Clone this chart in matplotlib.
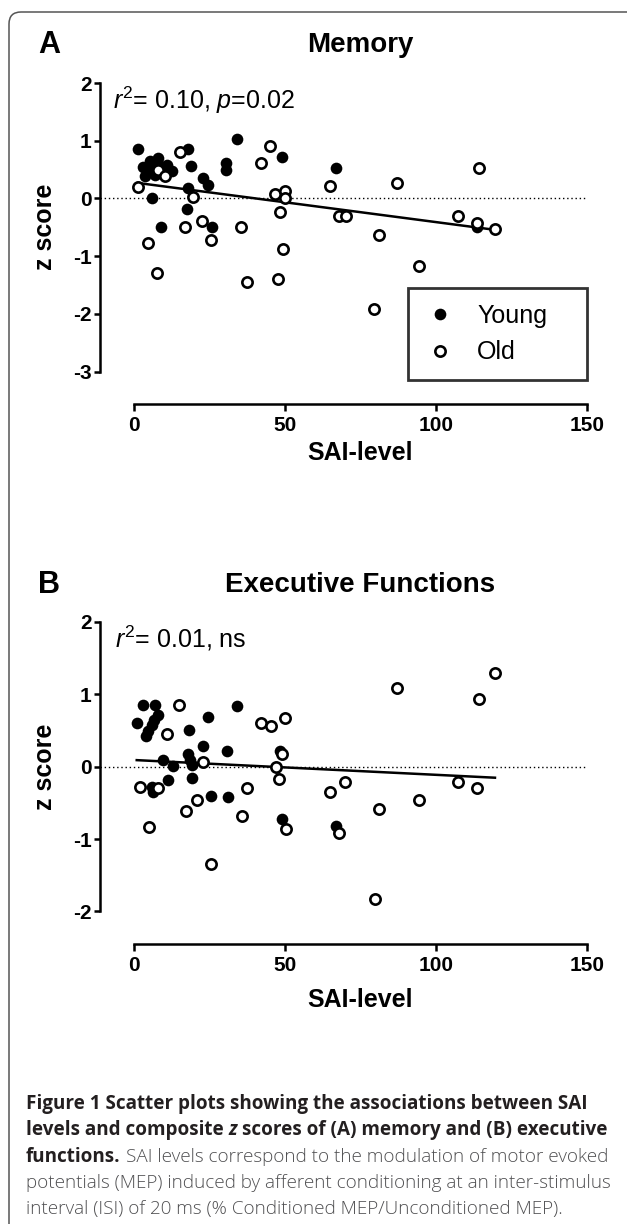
import numpy as np
import matplotlib.pyplot as plt
from matplotlib.lines import Line2D
from matplotlib.patches import FancyBboxPatch
from matplotlib.transforms import IdentityTransform

W, H = 627, 1224

# Panel A: memory z scores vs SAI level
mem_young_sai = [1.2, 3.1, 3.6, 4.5, 5.3, 6.0, 7.0, 8.0, 9.5, 10.8, 12.5, 18.0, 19.0,
                 23.0, 24.4, 30.5, 30.5, 34.0, 49.0, 6.0, 18.0, 17.4, 9.0, 25.7, 66.9, 113.5]
mem_young_z = [0.86, 0.55, 0.38, 0.45, 0.65, 0.60, 0.41, 0.70, 0.55, 0.58, 0.47, 0.86, 0.57,
               0.36, 0.23, 0.62, 0.50, 1.03, 0.72, 0.00, 0.18, -0.18, -0.49, -0.50, 0.52, -0.49]
mem_old_sai = [1.4, 8.0, 10.3, 15.2, 19.6, 16.9, 22.4, 25.4, 4.7, 7.5, 35.4, 37.3, 47.8, 49.2,
               48.3, 46.7, 50.0, 50.0, 45.0, 42.0, 64.9, 87.2, 114.3, 67.7, 70.1, 81.2, 94.5,
               107.4, 113.7, 119.5, 79.6]
mem_old_z = [0.20, 0.50, 0.38, 0.81, 0.03, -0.49, -0.39, -0.72, -0.78, -1.30, -0.49, -1.45, -1.40,
             -0.88, -0.24, 0.08, 0.12, 0.00, 0.90, 0.61, 0.22, 0.27, 0.52, -0.30, -0.30, -0.63,
             -1.17, -0.30, -0.42, -0.53, -1.92]

# Panel B: executive function z scores vs SAI level
exe_young_sai = [0.9, 3.1, 3.9, 4.7, 5.9, 6.5, 7.0, 8.0, 18.3, 24.6, 34.0, 9.5, 12.8, 17.9, 18.5,
                 19.1, 23.0, 30.7, 19.1, 11.4, 5.9, 6.3, 25.4, 31.0, 48.3, 48.9, 66.9]
exe_young_z = [0.61, 0.85, 0.42, 0.49, 0.58, 0.65, 0.85, 0.72, 0.51, 0.69, 0.84, 0.09, 0.01, 0.18,
               0.09, 0.02, 0.28, 0.22, -0.16, -0.18, -0.28, -0.35, -0.41, -0.42, 0.21, -0.72, -0.82]
exe_old_sai = [2.0, 8.0, 5.0, 10.8, 15.0, 22.7, 20.7, 17.1, 37.3, 35.7, 25.4, 42.0, 45.3, 50.0,
               48.9, 47.0, 48.1, 50.3, 64.9, 67.7, 69.9, 79.8, 81.2, 87.2, 94.5, 107.4, 113.5,
               114.3, 119.5]
exe_old_z = [-0.28, -0.30, -0.84, 0.45, 0.85, 0.07, -0.46, -0.61, -0.30, -0.68, -1.34, 0.60, 0.56,
             0.67, 0.18, 0.00, -0.17, -0.86, -0.35, -0.92, -0.21, -1.83, -0.59, 1.09, -0.46, -0.21,
             -0.29, 0.94, 1.30]

x_ticks = [0, 50, 100, 150]

plt.rcParams['font.family'] = ['Liberation Sans', 'DejaVu Sans']
plt.rcParams['axes.unicode_minus'] = False
plt.rcParams['mathtext.fontset'] = 'custom'
plt.rcParams['mathtext.rm'] = 'Liberation Sans'
plt.rcParams['mathtext.it'] = 'Liberation Sans:italic'
plt.rcParams['mathtext.bf'] = 'Liberation Sans:bold'

CAP_FONT = ['Open Sans', 'DejaVu Sans']
BOLD_COL = '#231f20'
REG_COL = '#505052'

FILLED = dict(marker='o', ms=8.4, mfc='black', mec='black', mew=0)
HOLLOW = dict(marker='o', ms=7.4, mfc='white', mec='black', mew=1.9)


def fx(px):
    return px / W


def fy(py):
    return 1 - py / H


def draw_panel(ax, ysai, yz, osai, oz, yticks, ylim):
    allx = np.array(ysai + osai)
    ally = np.array(yz + oz)
    slope, icpt = np.polyfit(allx, ally, 1)
    xs = np.array([allx.min(), allx.max()])

    ax.axhline(0, color='black', lw=1.0, ls=(0, (1, 2)), zorder=1)
    ax.plot(xs, icpt + slope * xs, color='black', lw=1.8, zorder=2)
    ax.plot(ysai, yz, ls='none', zorder=3, **FILLED)
    ax.plot(osai, oz, ls='none', zorder=4, **HOLLOW)

    ax.set_xlim(-11.26, 150.3)
    ax.set_ylim(*ylim)
    ax.set_xticks(x_ticks)
    ax.set_yticks(yticks)
    for s in ['top', 'right']:
        ax.spines[s].set_visible(False)
    ax.spines['left'].set_bounds(yticks[0], yticks[-1])
    ax.spines['bottom'].set_bounds(0, 150)
    for s in ['left', 'bottom']:
        ax.spines[s].set_linewidth(1.8)
    ax.tick_params(axis='y', length=4, width=1.8, pad=2, labelsize=15)
    ax.tick_params(axis='x', length=5, width=1.8, pad=4, labelsize=15)
    for lab in ax.get_xticklabels() + ax.get_yticklabels():
        lab.set_fontweight('bold')
    ax.patch.set_alpha(0)


fig = plt.figure(figsize=(W / 100, H / 100), dpi=100)

# border of the figure panel
border = FancyBboxPatch((9, -60), 700, H - 12 + 60, boxstyle='round,pad=0,rounding_size=12',
                        transform=IdentityTransform(), ec='#555555', fc='none', lw=1.1)
fig.add_artist(border)

# panel A axes: spine 0 at px 134, 150 at px 587; y 2 at px 83, -3 at px 371.5
axA = fig.add_axes([fx(100), fy(404), (588 - 100) / W, (404 - 78) / H])
draw_panel(axA, mem_young_sai, mem_young_z, mem_old_sai, mem_old_z,
           [-3, -2, -1, 0, 1, 2], (-3.563, 2.087))

axB = fig.add_axes([fx(100), fy(943.5), (588 - 100) / W, (943.5 - 618) / H])
draw_panel(axB, exe_young_sai, exe_young_z, exe_old_sai, exe_old_z,
           [-2, -1, 0, 1, 2], (-2.444, 2.055))

# panel letters and titles
fig.text(fx(49), fy(45), 'A', fontsize=22, fontweight='bold', ha='center', va='center')
fig.text(fx(360), fy(45), 'Memory', fontsize=20, fontweight='bold', ha='center', va='center')
fig.text(fx(49), fy(585), 'B', fontsize=22, fontweight='bold', ha='center', va='center')
fig.text(fx(360), fy(585), 'Executive Functions', fontsize=20, fontweight='bold',
         ha='center', va='center')

# axis labels
for ylab_c, xlab_c in [(227, 453), (767, 1000)]:
    fig.text(fx(45), fy(ylab_c), 'z score', fontsize=18, fontweight='bold', rotation=90,
             ha='center', va='center')
    fig.text(fx(360.5), fy(xlab_c), 'SAI-level', fontsize=18, fontweight='bold',
             ha='center', va='center')

# fit statistics
fig.text(fx(113), fy(100), r'$r^2$= 0.10, $p$=0.02', fontsize=18, ha='left', va='center')
fig.text(fx(115), fy(638), r'$r^2$= 0.01, ns', fontsize=18, ha='left', va='center')

# legend for panel A (box spans px 408..587 horizontally, 291..380 vertically)
handles = [Line2D([], [], ls='none', **FILLED), Line2D([], [], ls='none', **HOLLOW)]
leg = axA.legend(handles, ['Young', 'Old'], loc='lower left', mode='expand',
                 bbox_to_anchor=((408 - 100) / 488, (404 - 380) / 326, 179 / 488, 89 / 326),
                 borderaxespad=0, fontsize=18, frameon=True, fancybox=False,
                 handlelength=1.3, handletextpad=0.85, borderpad=0.62, labelspacing=0.5)
leg.get_frame().set_edgecolor('black')
leg.get_frame().set_linewidth(2.0)

# caption
renderer = fig.canvas.get_renderer()


def text_w(s, weight, style, size):
    t = fig.text(0, 0, s, fontsize=size, fontweight=weight, fontstyle=style, family=CAP_FONT)
    w = t.get_window_extent(renderer).width
    t.remove()
    return w


caption = [
    (1109, [('Figure 1 Scatter plots showing the associations between SAI', 'bold', 'normal', BOLD_COL)]),
    (1135, [('levels and composite', 'bold', 'normal', BOLD_COL),
            ('z', 'bold', 'italic', BOLD_COL),
            ('scores of (A) memory and (B) executive', 'bold', 'normal', BOLD_COL)]),
    (1161.5, [('functions.', 'bold', 'normal', BOLD_COL),
              ('SAI levels correspond to the modulation of motor evoked', 'light', 'normal', REG_COL)]),
    (1187.5, [('potentials (MEP) induced by afferent conditioning at an inter-stimulus',
               'light', 'normal', REG_COL)]),
    (1214, [('interval (ISI) of 20 ms (% Conditioned MEP/Unconditioned MEP).',
             'light', 'normal', REG_COL)]),
]

# fit first caption line to the width seen in the figure (px 26..586)
cap_size = 12.0 * 560 / text_w(caption[0][1][0][0], 'bold', 'normal', 12.0)


def put_runs(x_px, base_px, runs):
    x = x_px
    for i, (txt, weight, style, color) in enumerate(runs):
        if i > 0:
            x += text_w('a a', weight, style, cap_size) - text_w('aa', weight, style, cap_size)
        t = fig.text(fx(x), fy(base_px), txt, fontsize=cap_size, fontweight=weight,
                     fontstyle=style, color=color, family=CAP_FONT, va='baseline')
        x += t.get_window_extent(renderer).width


for base, runs in caption:
    put_runs(26, base, runs)

fig.savefig('out.png', dpi=100)
